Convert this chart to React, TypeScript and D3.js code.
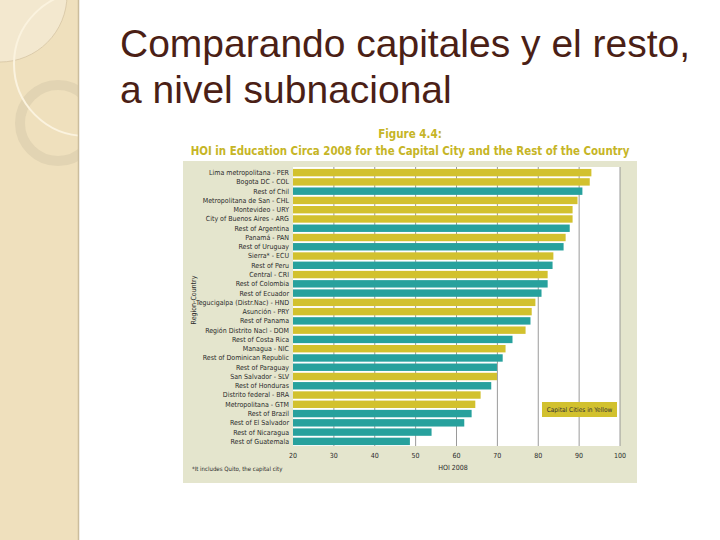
import * as d3 from 'd3';

// rows from top to bottom, as in the figure
const regions = [
  'Lima metropolitana - PER',
  'Bogota DC - COL',
  'Rest of Chil',
  'Metropolitana de San - CHL',
  'Montevideo - URY',
  'City of Buenos Aires - ARG',
  'Rest of Argentina',
  'Panamá - PAN',
  'Rest of Uruguay',
  'Sierra* - ECU',
  'Rest of Peru',
  'Central - CRI',
  'Rest of Colombia',
  'Rest of Ecuador',
  'Tegucigalpa (Distr.Nac) - HND',
  'Asunción - PRY',
  'Rest of Panama',
  'Región Distrito Nacl - DOM',
  'Rest of Costa Rica',
  'Managua - NIC',
  'Rest of Dominican Republic',
  'Rest of Paraguay',
  'San Salvador - SLV',
  'Rest of Honduras',
  'Distrito federal - BRA',
  'Metropolitana - GTM',
  'Rest of Brazil',
  'Rest of El Salvador',
  'Rest of Nicaragua',
  'Rest of Guatemala',
];

const hoi = [
  93.0, 92.6, 90.8, 89.6, 88.4, 88.4, 87.7, 86.7, 86.2, 83.7,
  83.5, 82.3, 82.3, 80.8, 79.3, 78.4, 78.1, 76.9, 73.7, 72.0,
  71.3, 69.9, 69.9, 68.5, 65.9, 64.6, 63.7, 61.9, 53.9, 48.6,
];

const isCapital = [
  1, 1, 0, 1, 1, 1, 0, 1, 0, 1,
  0, 1, 0, 0, 1, 1, 0, 1, 0, 1,
  0, 0, 1, 0, 1, 1, 0, 0, 0, 0,
];

const xTicks = [20, 30, 40, 50, 60, 70, 80, 90, 100];

const YELLOW = '#d2c12e';
const TEAL = '#27a19d';
const FIG_FONT = '"Liberation Sans Narrow", "DejaVu Sans Condensed", "Liberation Sans", sans-serif';

export default function App() {
  const x = d3.scaleLinear().domain([20, 100]).range([293, 620]);
  const y = d3
    .scaleBand()
    .domain(regions)
    .range([168, 446])
    .paddingInner(0.2)
    .paddingOuter(0.1);

  return (
    <svg
      width={720}
      height={540}
      style={{ position: 'absolute', left: 0, top: 0, background: '#fff' }}
    >
      {/* left decorative strip */}
      <rect x={0} y={0} width={78} height={540} fill="#efe0bd" />
      <circle cx={0} cy={-5} r={67} fill="#f3e8cf" stroke="#cdbb98" strokeWidth={0.6} />
      <circle cx={58} cy={123} r={38} fill="none" stroke="#e2d4b3" strokeWidth={10} />
      <circle cx={86} cy={64} r={72} fill="none" stroke="#fbf3df" strokeWidth={2} />
      <rect x={78} y={0} width={642} height={540} fill="#fff" />
      <line x1={78.5} y1={0} x2={78.5} y2={540} stroke="#cbbd9d" strokeWidth={1.5} />

      {/* slide title */}
      <g fontFamily='"Liberation Sans", Arial, sans-serif' fontSize={39} fill="#4b1f16">
        <text x={120} y={57}>Comparando capitales y el resto,</text>
        <text x={120} y={103}>a nivel subnacional</text>
      </g>

      {/* figure titles */}
      <g fontFamily={FIG_FONT} fontWeight="bold" fill="#c6b526" textAnchor="middle">
        <text x={410} y={138} fontSize={11.5}>Figure 4.4:</text>
        <text x={410} y={155} fontSize={11.4}>
          HOI in Education Circa 2008 for the Capital City and the Rest of the Country
        </text>
      </g>

      {/* figure panel */}
      <rect x={183} y={161} width={454} height={322} fill="#e4e5cd" />
      <rect x={x(20)} y={167} width={x(100) - x(20)} height={279} fill="#fff" />

      {/* grid */}
      {xTicks.slice(1).map((t) => (
        <line key={t} x1={x(t)} x2={x(t)} y1={167} y2={446} stroke="#8e8e8e" strokeWidth={0.9} />
      ))}

      {/* bars */}
      {regions.map((r, i) => (
        <rect
          key={r}
          x={x(20)}
          y={y(r)}
          width={x(hoi[i]) - x(20)}
          height={y.bandwidth()}
          fill={isCapital[i] ? YELLOW : TEAL}
        />
      ))}

      {/* category labels */}
      <g fontFamily={FIG_FONT} fontSize={7} fill="#2a2a2a" textAnchor="end">
        {regions.map((r) => (
          <text key={r} x={289} y={(y(r) ?? 0) + y.bandwidth() / 2} dy="0.35em">
            {r}
          </text>
        ))}
      </g>

      {/* x tick labels */}
      <g fontFamily={FIG_FONT} fontSize={7} fill="#2a2a2a" textAnchor="middle">
        {xTicks.map((t) => (
          <text key={t} x={x(t)} y={458}>
            {t}
          </text>
        ))}
        <text x={453} y={470}>HOI 2008</text>
      </g>

      <text
        x={194}
        y={300}
        transform="rotate(-90 194 300)"
        textAnchor="middle"
        dy="0.35em"
        fontFamily={FIG_FONT}
        fontSize={7}
        fill="#2a2a2a"
      >
        Region-Country
      </text>

      <text x={192} y={471} fontFamily={FIG_FONT} fontSize={6} fill="#2a2a2a">
        *It includes Quito, the capital city
      </text>

      {/* legend */}
      <rect x={542} y={402} width={75} height={15} fill={YELLOW} />
      <text
        x={579.5}
        y={409.5}
        dy="0.35em"
        textAnchor="middle"
        fontFamily={FIG_FONT}
        fontSize={6.5}
        fill="#333"
      >
        Capital Cities in Yellow
      </text>
    </svg>
  );
}
